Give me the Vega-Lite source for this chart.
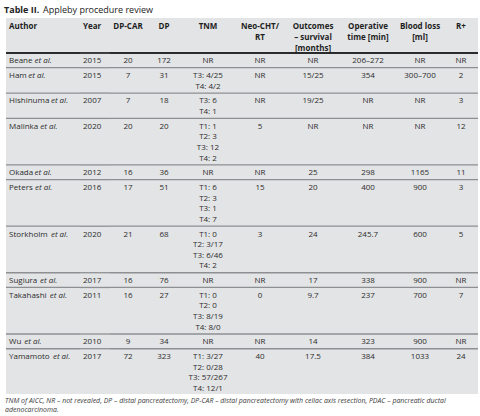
{
  "$schema": "https://vega.github.io/schema/vega-lite/v6.json",
  "padding": {"left": 4, "right": 4, "top": 0, "bottom": 0},
  "spacing": 4,
  "bounds": "flush",
  "vconcat": [
    {
      "width": 472,
      "height": 14,
      "data": {"values": [{}]},
      "layer": [
        {"mark": {"type": "text", "text": "Table II.", "fontWeight": "bold", "fontSize": 9, "align": "left", "baseline": "middle", "x": -2, "y": 10, "color": "#222222"}},
        {"mark": {"type": "text", "text": "Appleby procedure review", "fontSize": 9, "align": "left", "baseline": "middle", "x": 37, "y": 10, "color": "#222222"}}
      ]
    },
    {
      "data": {
        "values": [
          {"author": "Beane", "year": "2015", "dpcar": "20", "dp": "172", "tnm": ["NR"], "neo": "NR", "outcomes": "NR", "optime": "206–272", "blood": "NR", "rplus": "NR"},
          {"author": "Ham", "year": "2015", "dpcar": "7", "dp": "31", "tnm": ["T3: 4/25", "T4: 4/2"], "neo": "NR", "outcomes": "15/25", "optime": "354", "blood": "300–700", "rplus": "2"},
          {"author": "Hishinuma", "year": "2007", "dpcar": "7", "dp": "18", "tnm": ["T3: 6", "T4: 1"], "neo": "NR", "outcomes": "19/25", "optime": "NR", "blood": "NR", "rplus": "3"},
          {"author": "Malinka", "year": "2020", "dpcar": "20", "dp": "20", "tnm": ["T1: 1", "T2: 3", "T3: 12", "T4: 2"], "neo": "5", "outcomes": "NR", "optime": "NR", "blood": "NR", "rplus": "12"},
          {"author": "Okada", "year": "2012", "dpcar": "16", "dp": "36", "tnm": ["NR"], "neo": "NR", "outcomes": "25", "optime": "298", "blood": "1165", "rplus": "11"},
          {"author": "Peters", "year": "2016", "dpcar": "17", "dp": "51", "tnm": ["T1: 6", "T2: 3", "T3: 1", "T4: 7"], "neo": "15", "outcomes": "20", "optime": "400", "blood": "900", "rplus": "3"},
          {"author": "Storkholm", "year": "2020", "dpcar": "21", "dp": "68", "tnm": ["T1: 0", "T2: 3/17", "T3: 6/46", "T4: 2"], "neo": "3", "outcomes": "24", "optime": "245.7", "blood": "600", "rplus": "5"},
          {"author": "Sugiura", "year": "2017", "dpcar": "16", "dp": "76", "tnm": ["NR"], "neo": "NR", "outcomes": "17", "optime": "338", "blood": "900", "rplus": "NR"},
          {"author": "Takahashi", "year": "2011", "dpcar": "16", "dp": "27", "tnm": ["T1: 0", "T2: 0", "T3: 8/19", "T4: 8/0"], "neo": "0", "outcomes": "9.7", "optime": "237", "blood": "700", "rplus": "7"},
          {"author": "Wu", "year": "2010", "dpcar": "9", "dp": "34", "tnm": ["NR"], "neo": "NR", "outcomes": "14", "optime": "323", "blood": "900", "rplus": "NR"},
          {"author": "Yamamoto", "year": "2017", "dpcar": "72", "dp": "323", "tnm": ["T1: 3/27", "T2: 0/28", "T3: 57/267", "T4: 12/1"], "neo": "40", "outcomes": "17.5", "optime": "384", "blood": "1033", "rplus": "24"}
        ]
      },
      "transform": [
        {"window": [{"op": "row_number", "as": "idx"}]},
        {"calculate": "length(datum.tnm)", "as": "nl"},
        {"window": [{"op": "sum", "field": "nl", "as": "cum"}], "frame": [null, 0]},
        {"calculate": "3.3 + datum.cum - datum.nl + (datum.idx - 1) * 0.39", "as": "top"},
        {"calculate": "datum.top + 0.415", "as": "ty"},
        {"calculate": "5.1 + 4.45 * length(datum.author) + 0.8 * length(replace(datum.author, regexp('[^A-Z]', 'g'), '')) + 1.6 * length(replace(datum.author, regexp('[^M]', 'g'), '')) + 0.45 * length(replace(datum.author, regexp('[^nhudbpqo]', 'g'), '')) - 0.6 * length(replace(datum.author, regexp('[^sc]', 'g'), '')) - 2.4 * length(replace(datum.author, regexp('[^iljf]', 'g'), '')) - 1.5 * length(replace(datum.author, regexp('[^tr]', 'g'), '')) + 3 * length(replace(datum.author, regexp('[^mwW]', 'g'), ''))", "as": "ew"}
      ],
      "spacing": 0,
      "bounds": "flush",
      "title": {
        "text": ["TNM of AICC, NR – not revealed, DP – distal pancreatectomy, DP-CAR – distal pancreatectomy with celiac axis resection, PDAC – pancreatic ductal", "adenocarcinoma."],
        "orient": "bottom",
        "anchor": "start",
        "font": "Open Sans",
        "fontSize": 6.95,
        "fontStyle": "italic",
        "fontWeight": "normal",
        "color": "#3a3a3a",
        "lineHeight": 9,
        "offset": 4
      },
      "hconcat": [
        {
          "width": 74, "height": 376, "view": {"fill": "#e3e4e6"},
          "layer": [
            {"transform": [{"filter": "datum.idx > 1"}], "mark": {"type": "rule", "color": "#8e8f92", "strokeWidth": 1.3}, "encoding": {"y": {"field": "top", "type": "quantitative", "scale": {"domain": [0, 35.47], "reverse": true, "nice": false, "zero": false}, "axis": null}}},
            {"transform": [{"filter": "datum.idx == 1"}], "mark": {"type": "rule", "color": "#2b2b2b", "strokeWidth": 1.8}, "encoding": {"y": {"field": "top", "type": "quantitative", "scale": {"domain": [0, 35.47], "reverse": true, "nice": false, "zero": false}, "axis": null}}},
            {"transform": [{"filter": "datum.idx == 1"}], "mark": {"type": "text", "fontWeight": "bold", "align": "left", "baseline": "top", "lineHeight": 11, "color": "#1e1e1e"},
             "encoding": {"x": {"datum": 3, "type": "quantitative", "scale": {"domain": [0, 74], "nice": false}, "axis": null}, "y": {"datum": 0.51, "type": "quantitative", "scale": {"domain": [0, 35.47], "reverse": true, "nice": false, "zero": false}, "axis": null}, "text": {"value": ["Author"]}}},
            {"mark": {"type": "text", "align": "left", "baseline": "top"},
             "encoding": {"x": {"datum": 3, "type": "quantitative", "scale": {"domain": [0, 74], "nice": false}, "axis": null}, "y": {"field": "ty", "type": "quantitative", "scale": {"domain": [0, 35.47], "reverse": true, "nice": false, "zero": false}, "axis": null}, "text": {"field": "author"}}},
            {"mark": {"type": "text", "align": "left", "baseline": "top", "fontStyle": "italic"},
             "encoding": {"x": {"field": "ew", "type": "quantitative", "scale": {"domain": [0, 74], "nice": false}, "axis": null}, "y": {"field": "ty", "type": "quantitative", "scale": {"domain": [0, 35.47], "reverse": true, "nice": false, "zero": false}, "axis": null}, "text": {"value": "et al."}}}
          ]
        },
        {
          "width": 30, "height": 376, "view": {"fill": "#e3e4e6"},
          "layer": [
            {"transform": [{"filter": "datum.idx > 1"}], "mark": {"type": "rule", "color": "#8e8f92", "strokeWidth": 1.3}, "encoding": {"y": {"field": "top", "type": "quantitative", "scale": {"domain": [0, 35.47], "reverse": true, "nice": false, "zero": false}, "axis": null}}},
            {"transform": [{"filter": "datum.idx == 1"}], "mark": {"type": "rule", "color": "#2b2b2b", "strokeWidth": 1.8}, "encoding": {"y": {"field": "top", "type": "quantitative", "scale": {"domain": [0, 35.47], "reverse": true, "nice": false, "zero": false}, "axis": null}}},
            {"transform": [{"filter": "datum.idx == 1"}], "mark": {"type": "text", "fontWeight": "bold", "align": "left", "baseline": "top", "lineHeight": 11, "color": "#1e1e1e"},
             "encoding": {"x": {"datum": 3, "type": "quantitative", "scale": {"domain": [0, 30], "nice": false}, "axis": null}, "y": {"datum": 0.51, "type": "quantitative", "scale": {"domain": [0, 35.47], "reverse": true, "nice": false, "zero": false}, "axis": null}, "text": {"value": ["Year"]}}},
            {"mark": {"type": "text", "align": "left", "baseline": "top"},
             "encoding": {"x": {"datum": 3, "type": "quantitative", "scale": {"domain": [0, 30], "nice": false}, "axis": null}, "y": {"field": "ty", "type": "quantitative", "scale": {"domain": [0, 35.47], "reverse": true, "nice": false, "zero": false}, "axis": null}, "text": {"field": "year"}}}
          ]
        },
        {
          "width": 36, "height": 376, "view": {"fill": "#e3e4e6"},
          "layer": [
            {"transform": [{"filter": "datum.idx > 1"}], "mark": {"type": "rule", "color": "#8e8f92", "strokeWidth": 1.3}, "encoding": {"y": {"field": "top", "type": "quantitative", "scale": {"domain": [0, 35.47], "reverse": true, "nice": false, "zero": false}, "axis": null}}},
            {"transform": [{"filter": "datum.idx == 1"}], "mark": {"type": "rule", "color": "#2b2b2b", "strokeWidth": 1.8}, "encoding": {"y": {"field": "top", "type": "quantitative", "scale": {"domain": [0, 35.47], "reverse": true, "nice": false, "zero": false}, "axis": null}}},
            {"transform": [{"filter": "datum.idx == 1"}], "mark": {"type": "text", "fontWeight": "bold", "align": "center", "baseline": "top", "lineHeight": 11, "color": "#1e1e1e"},
             "encoding": {"x": {"datum": 0.5, "type": "quantitative", "scale": {"domain": [0, 1], "nice": false}, "axis": null}, "y": {"datum": 0.51, "type": "quantitative", "scale": {"domain": [0, 35.47], "reverse": true, "nice": false, "zero": false}, "axis": null}, "text": {"value": ["DP-CAR"]}}},
            {"mark": {"type": "text", "align": "center", "baseline": "top"},
             "encoding": {"x": {"datum": 0.5, "type": "quantitative", "scale": {"domain": [0, 1], "nice": false}, "axis": null}, "y": {"field": "ty", "type": "quantitative", "scale": {"domain": [0, 35.47], "reverse": true, "nice": false, "zero": false}, "axis": null}, "text": {"field": "dpcar"}}}
          ]
        },
        {
          "width": 36, "height": 376, "view": {"fill": "#e3e4e6"},
          "layer": [
            {"transform": [{"filter": "datum.idx > 1"}], "mark": {"type": "rule", "color": "#8e8f92", "strokeWidth": 1.3}, "encoding": {"y": {"field": "top", "type": "quantitative", "scale": {"domain": [0, 35.47], "reverse": true, "nice": false, "zero": false}, "axis": null}}},
            {"transform": [{"filter": "datum.idx == 1"}], "mark": {"type": "rule", "color": "#2b2b2b", "strokeWidth": 1.8}, "encoding": {"y": {"field": "top", "type": "quantitative", "scale": {"domain": [0, 35.47], "reverse": true, "nice": false, "zero": false}, "axis": null}}},
            {"transform": [{"filter": "datum.idx == 1"}], "mark": {"type": "text", "fontWeight": "bold", "align": "center", "baseline": "top", "lineHeight": 11, "color": "#1e1e1e"},
             "encoding": {"x": {"datum": 0.5, "type": "quantitative", "scale": {"domain": [0, 1], "nice": false}, "axis": null}, "y": {"datum": 0.51, "type": "quantitative", "scale": {"domain": [0, 35.47], "reverse": true, "nice": false, "zero": false}, "axis": null}, "text": {"value": ["DP"]}}},
            {"mark": {"type": "text", "align": "center", "baseline": "top"},
             "encoding": {"x": {"datum": 0.5, "type": "quantitative", "scale": {"domain": [0, 1], "nice": false}, "axis": null}, "y": {"field": "ty", "type": "quantitative", "scale": {"domain": [0, 35.47], "reverse": true, "nice": false, "zero": false}, "axis": null}, "text": {"field": "dp"}}}
          ]
        },
        {
          "width": 52, "height": 376, "view": {"fill": "#e3e4e6"},
          "layer": [
            {"transform": [{"filter": "datum.idx > 1"}], "mark": {"type": "rule", "color": "#8e8f92", "strokeWidth": 1.3}, "encoding": {"y": {"field": "top", "type": "quantitative", "scale": {"domain": [0, 35.47], "reverse": true, "nice": false, "zero": false}, "axis": null}}},
            {"transform": [{"filter": "datum.idx == 1"}], "mark": {"type": "rule", "color": "#2b2b2b", "strokeWidth": 1.8}, "encoding": {"y": {"field": "top", "type": "quantitative", "scale": {"domain": [0, 35.47], "reverse": true, "nice": false, "zero": false}, "axis": null}}},
            {"transform": [{"filter": "datum.idx == 1"}], "mark": {"type": "text", "fontWeight": "bold", "align": "center", "baseline": "top", "lineHeight": 11, "color": "#1e1e1e"},
             "encoding": {"x": {"datum": 0.5, "type": "quantitative", "scale": {"domain": [0, 1], "nice": false}, "axis": null}, "y": {"datum": 0.51, "type": "quantitative", "scale": {"domain": [0, 35.47], "reverse": true, "nice": false, "zero": false}, "axis": null}, "text": {"value": ["TNM"]}}},
            {"mark": {"type": "text", "align": "center", "baseline": "top", "lineHeight": 10.6},
             "encoding": {"x": {"datum": 0.5, "type": "quantitative", "scale": {"domain": [0, 1], "nice": false}, "axis": null}, "y": {"field": "ty", "type": "quantitative", "scale": {"domain": [0, 35.47], "reverse": true, "nice": false, "zero": false}, "axis": null}, "text": {"field": "tnm"}}}
          ]
        },
        {
          "width": 52, "height": 376, "view": {"fill": "#e3e4e6"},
          "layer": [
            {"transform": [{"filter": "datum.idx > 1"}], "mark": {"type": "rule", "color": "#8e8f92", "strokeWidth": 1.3}, "encoding": {"y": {"field": "top", "type": "quantitative", "scale": {"domain": [0, 35.47], "reverse": true, "nice": false, "zero": false}, "axis": null}}},
            {"transform": [{"filter": "datum.idx == 1"}], "mark": {"type": "rule", "color": "#2b2b2b", "strokeWidth": 1.8}, "encoding": {"y": {"field": "top", "type": "quantitative", "scale": {"domain": [0, 35.47], "reverse": true, "nice": false, "zero": false}, "axis": null}}},
            {"transform": [{"filter": "datum.idx == 1"}], "mark": {"type": "text", "fontWeight": "bold", "align": "center", "baseline": "top", "lineHeight": 11, "color": "#1e1e1e"},
             "encoding": {"x": {"datum": 0.5, "type": "quantitative", "scale": {"domain": [0, 1], "nice": false}, "axis": null}, "y": {"datum": 0.51, "type": "quantitative", "scale": {"domain": [0, 35.47], "reverse": true, "nice": false, "zero": false}, "axis": null}, "text": {"value": ["Neo-CHT/", "RT"]}}},
            {"mark": {"type": "text", "align": "center", "baseline": "top"},
             "encoding": {"x": {"datum": 0.5, "type": "quantitative", "scale": {"domain": [0, 1], "nice": false}, "axis": null}, "y": {"field": "ty", "type": "quantitative", "scale": {"domain": [0, 35.47], "reverse": true, "nice": false, "zero": false}, "axis": null}, "text": {"field": "neo"}}}
          ]
        },
        {
          "width": 54, "height": 376, "view": {"fill": "#e3e4e6"},
          "layer": [
            {"transform": [{"filter": "datum.idx > 1"}], "mark": {"type": "rule", "color": "#8e8f92", "strokeWidth": 1.3}, "encoding": {"y": {"field": "top", "type": "quantitative", "scale": {"domain": [0, 35.47], "reverse": true, "nice": false, "zero": false}, "axis": null}}},
            {"transform": [{"filter": "datum.idx == 1"}], "mark": {"type": "rule", "color": "#2b2b2b", "strokeWidth": 1.8}, "encoding": {"y": {"field": "top", "type": "quantitative", "scale": {"domain": [0, 35.47], "reverse": true, "nice": false, "zero": false}, "axis": null}}},
            {"transform": [{"filter": "datum.idx == 1"}], "mark": {"type": "text", "fontWeight": "bold", "align": "center", "baseline": "top", "lineHeight": 11, "color": "#1e1e1e"},
             "encoding": {"x": {"datum": 0.5, "type": "quantitative", "scale": {"domain": [0, 1], "nice": false}, "axis": null}, "y": {"datum": 0.51, "type": "quantitative", "scale": {"domain": [0, 35.47], "reverse": true, "nice": false, "zero": false}, "axis": null}, "text": {"value": ["Outcomes", "– survival", "[months]"]}}},
            {"mark": {"type": "text", "align": "center", "baseline": "top"},
             "encoding": {"x": {"datum": 0.5, "type": "quantitative", "scale": {"domain": [0, 1], "nice": false}, "axis": null}, "y": {"field": "ty", "type": "quantitative", "scale": {"domain": [0, 35.47], "reverse": true, "nice": false, "zero": false}, "axis": null}, "text": {"field": "outcomes"}}}
          ]
        },
        {
          "width": 56, "height": 376, "view": {"fill": "#e3e4e6"},
          "layer": [
            {"transform": [{"filter": "datum.idx > 1"}], "mark": {"type": "rule", "color": "#8e8f92", "strokeWidth": 1.3}, "encoding": {"y": {"field": "top", "type": "quantitative", "scale": {"domain": [0, 35.47], "reverse": true, "nice": false, "zero": false}, "axis": null}}},
            {"transform": [{"filter": "datum.idx == 1"}], "mark": {"type": "rule", "color": "#2b2b2b", "strokeWidth": 1.8}, "encoding": {"y": {"field": "top", "type": "quantitative", "scale": {"domain": [0, 35.47], "reverse": true, "nice": false, "zero": false}, "axis": null}}},
            {"transform": [{"filter": "datum.idx == 1"}], "mark": {"type": "text", "fontWeight": "bold", "align": "center", "baseline": "top", "lineHeight": 11, "color": "#1e1e1e"},
             "encoding": {"x": {"datum": 0.5, "type": "quantitative", "scale": {"domain": [0, 1], "nice": false}, "axis": null}, "y": {"datum": 0.51, "type": "quantitative", "scale": {"domain": [0, 35.47], "reverse": true, "nice": false, "zero": false}, "axis": null}, "text": {"value": ["Operative", "time [min]"]}}},
            {"mark": {"type": "text", "align": "center", "baseline": "top"},
             "encoding": {"x": {"datum": 0.5, "type": "quantitative", "scale": {"domain": [0, 1], "nice": false}, "axis": null}, "y": {"field": "ty", "type": "quantitative", "scale": {"domain": [0, 35.47], "reverse": true, "nice": false, "zero": false}, "axis": null}, "text": {"field": "optime"}}}
          ]
        },
        {
          "width": 48, "height": 376, "view": {"fill": "#e3e4e6"},
          "layer": [
            {"transform": [{"filter": "datum.idx > 1"}], "mark": {"type": "rule", "color": "#8e8f92", "strokeWidth": 1.3}, "encoding": {"y": {"field": "top", "type": "quantitative", "scale": {"domain": [0, 35.47], "reverse": true, "nice": false, "zero": false}, "axis": null}}},
            {"transform": [{"filter": "datum.idx == 1"}], "mark": {"type": "rule", "color": "#2b2b2b", "strokeWidth": 1.8}, "encoding": {"y": {"field": "top", "type": "quantitative", "scale": {"domain": [0, 35.47], "reverse": true, "nice": false, "zero": false}, "axis": null}}},
            {"transform": [{"filter": "datum.idx == 1"}], "mark": {"type": "text", "fontWeight": "bold", "align": "center", "baseline": "top", "lineHeight": 11, "color": "#1e1e1e"},
             "encoding": {"x": {"datum": 0.5, "type": "quantitative", "scale": {"domain": [0, 1], "nice": false}, "axis": null}, "y": {"datum": 0.51, "type": "quantitative", "scale": {"domain": [0, 35.47], "reverse": true, "nice": false, "zero": false}, "axis": null}, "text": {"value": ["Blood loss", "[ml]"]}}},
            {"mark": {"type": "text", "align": "center", "baseline": "top"},
             "encoding": {"x": {"datum": 0.5, "type": "quantitative", "scale": {"domain": [0, 1], "nice": false}, "axis": null}, "y": {"field": "ty", "type": "quantitative", "scale": {"domain": [0, 35.47], "reverse": true, "nice": false, "zero": false}, "axis": null}, "text": {"field": "blood"}}}
          ]
        },
        {
          "width": 34, "height": 376, "view": {"fill": "#e3e4e6"},
          "layer": [
            {"transform": [{"filter": "datum.idx > 1"}], "mark": {"type": "rule", "color": "#8e8f92", "strokeWidth": 1.3}, "encoding": {"y": {"field": "top", "type": "quantitative", "scale": {"domain": [0, 35.47], "reverse": true, "nice": false, "zero": false}, "axis": null}}},
            {"transform": [{"filter": "datum.idx == 1"}], "mark": {"type": "rule", "color": "#2b2b2b", "strokeWidth": 1.8}, "encoding": {"y": {"field": "top", "type": "quantitative", "scale": {"domain": [0, 35.47], "reverse": true, "nice": false, "zero": false}, "axis": null}}},
            {"transform": [{"filter": "datum.idx == 1"}], "mark": {"type": "text", "fontWeight": "bold", "align": "center", "baseline": "top", "lineHeight": 11, "color": "#1e1e1e"},
             "encoding": {"x": {"datum": 0.5, "type": "quantitative", "scale": {"domain": [0, 1], "nice": false}, "axis": null}, "y": {"datum": 0.51, "type": "quantitative", "scale": {"domain": [0, 35.47], "reverse": true, "nice": false, "zero": false}, "axis": null}, "text": {"value": ["R+"]}}},
            {"mark": {"type": "text", "align": "center", "baseline": "top"},
             "encoding": {"x": {"datum": 0.5, "type": "quantitative", "scale": {"domain": [0, 1], "nice": false}, "axis": null}, "y": {"field": "ty", "type": "quantitative", "scale": {"domain": [0, 35.47], "reverse": true, "nice": false, "zero": false}, "axis": null}, "text": {"field": "rplus"}}}
          ]
        }
      ]
    }
  ],
  "config": {
    "view": {"stroke": null},
    "text": {"font": "Open Sans", "fontSize": 8, "color": "#2c2c2c"}
  }
}
